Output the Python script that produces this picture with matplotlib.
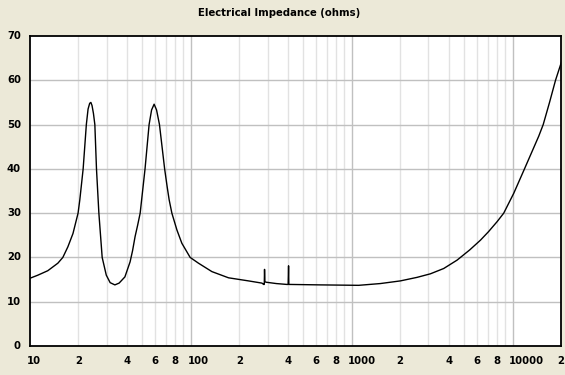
import numpy as np
import matplotlib
matplotlib.use("Agg")
import matplotlib.pyplot as plt
from matplotlib import transforms

# Frequency (Hz) and impedance (ohms)
freq = [10, 11.2, 12.9, 14.9, 16.0, 17.2, 18.5, 19.4, 19.9, 20.4, 21.4, 22.4,
        22.96, 23.5, 23.9, 24.3, 24.8, 25.3, 25.9, 26.8, 28.1, 29.8, 31.5, 33.7,
        35.8, 38.9, 41.9, 43.4, 45.0, 46.7, 48.4, 51.9, 55.0, 57.0, 59.1, 61.2,
        63.8, 68.7, 71.2, 73.3, 76.2, 81.9, 87.9, 99.0, 111.5, 135.1, 171.4,
        228.3, 276.6, 283.5, 286.0, 287.1, 288.5, 294.1, 339.6,
        395.7, 402.5, 404.9, 406.5, 414.9, 637.8, 1104, 1507, 2006, 2549, 3084,
        3732, 4522, 5416, 6315, 7080, 8023, 8810, 10174, 11860, 14550, 15503,
        16970, 18490, 20160]
impedance = [15.3, 16.0, 17.0, 18.7, 20.0, 22.4, 25.4, 28.4, 30.0, 33.0, 40.0, 50.0,
             53.5, 54.8, 55.0, 54.3, 52.5, 50.0, 40.0, 30.0, 20.0, 16.0, 14.3, 13.8,
             14.2, 15.6, 19.0, 21.5, 24.7, 27.3, 30.0, 40.0, 50.0, 53.3, 54.6, 53.3,
             50.0, 40.0, 36.0, 33.0, 30.0, 26.2, 23.2, 20.0, 18.7, 16.8, 15.4,
             14.7, 14.2, 13.9, 13.9, 17.3, 14.5, 14.4, 14.1,
             13.9, 13.9, 18.1, 13.9, 13.9, 13.8, 13.7, 14.1, 14.7, 15.5, 16.3,
             17.5, 19.4, 21.7, 23.9, 25.8, 28.1, 30.0, 34.5, 40.0, 47.4, 50.0,
             55.0, 60.0, 64.2]

title = "Electrical Impedance (ohms)"
y_ticks = [0, 10, 20, 30, 40, 50, 60, 70]
x_label_pos = [10, 20, 40, 60, 80, 100, 200, 400, 600, 800, 1000, 2000, 4000,
               6000, 8000, 10000, 20000]
x_label_txt = ["10", "2", "4", "6", "8", "100", "2", "4", "6", "8", "1000", "2",
               "4", "6", "8", "10000", "2"]

bg = "#ECE9D8"
W, H = 565, 375
fig = plt.figure(figsize=(W / 100, H / 100), dpi=100, facecolor=bg)
ax = fig.add_axes([30 / W, 1 - 346 / H, (561 - 30) / W, (346 - 36) / H])
ax.set_facecolor("white")
ax.set_xscale("log")
ax.set_xlim(10, 20000)
ax.set_ylim(0, 70)

# grid lines
minor = [m * 10 ** d for d in range(1, 5) for m in range(2, 10) if m * 10 ** d < 20000]
for f in minor:
    ax.axvline(f, color="#E2E2E2", lw=1.0, zorder=1)
for f in [100, 1000, 10000]:
    ax.axvline(f, color="#C0C0C0", lw=1.0, zorder=1)
for v in y_ticks[1:-1]:
    ax.axhline(v, color="#C0C0C0", lw=1.0, zorder=1)

ax.plot(freq, impedance, color="black", lw=1.0, zorder=3)

ax.set_xticks([])
ax.set_yticks([])
ax.minorticks_off()
for s in ax.spines.values():
    s.set_color("black")
    s.set_linewidth(1.3)
    s.set_zorder(4)

font = dict(family="DejaVu Sans", weight="bold", size=7.3)

# y labels
for v in y_ticks:
    ax.text(-0.017, v, str(v), transform=transforms.blended_transform_factory(ax.transAxes, ax.transData),
            ha="right", va="center", **font)

# x labels
base = transforms.blended_transform_factory(ax.transData, ax.transAxes)
for f, t in zip(x_label_pos, x_label_txt):
    if len(t) > 1:
        tr = base + transforms.ScaledTranslation(-3.5 / 100, 0, fig.dpi_scale_trans)
        ax.text(f, -0.033, t, transform=tr, ha="left", va="top", **font)
    else:
        ax.text(f, -0.033, t, transform=base, ha="center", va="top", **font)

fig.text(279 / W, 1 - 13 / H, title, ha="center", va="center",
         family="DejaVu Sans", weight="bold", size=7.3)

fig.savefig("out.png", dpi=100, facecolor=bg)
